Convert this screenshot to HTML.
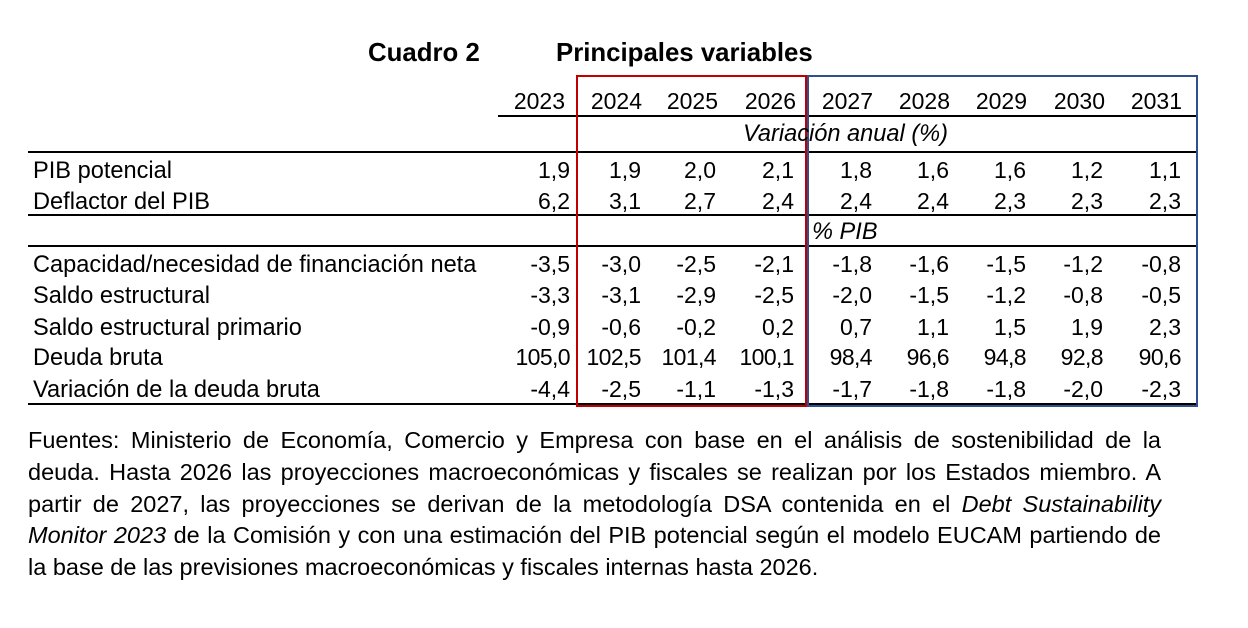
<!DOCTYPE html>
<html><head><meta charset="utf-8">
<style>
body{margin:0;width:1248px;height:628px;background:#fff;position:relative;overflow:hidden;font-family:"Liberation Sans",sans-serif;color:#000}
.a{position:absolute;white-space:nowrap;font-size:23px;line-height:26px}
.r{text-align:right}
.hl{position:absolute;height:2px;background:#000}
.box{position:absolute;border:2px solid}
#foot{position:absolute;left:28px;top:425px;width:1133px;font-size:23.5px;line-height:31.8px}
#foot div{text-align:justify;text-align-last:justify;white-space:nowrap}
#foot div.l{text-align-last:left}
</style></head><body>
<div class="a" style="left:368px;top:38px;font-weight:bold;font-size:25.8px;line-height:30px">Cuadro 2</div>
<div class="a" style="left:556px;top:38px;font-weight:bold;font-size:25.8px;line-height:30px">Principales variables</div>
<div class="hl" style="left:498px;top:115px;width:698px"></div>
<div class="hl" style="left:28px;top:151px;width:1168px"></div>
<div class="hl" style="left:28px;top:214px;width:1168px"></div>
<div class="hl" style="left:28px;top:245px;width:1168px"></div>
<div class="hl" style="left:28px;top:403px;width:1168px"></div>
<div class="box" style="left:576px;top:75px;width:227px;height:328px;border-color:#c00000"></div>
<div class="box" style="left:807px;top:75px;width:387px;height:328px;border-color:#2f4f8f"></div>
<div class="a" style="left:743px;top:121px;font-style:italic;font-size:23.6px">Variación anual (%)</div>
<div class="a" style="left:812px;top:219px;font-style:italic;font-size:23.6px">% PIB</div>
<div id="foot">
<div>Fuentes: Ministerio de Economía, Comercio y Empresa con base en el análisis de sostenibilidad de la</div>
<div>deuda. Hasta 2026 las proyecciones macroeconómicas y fiscales se realizan por los Estados miembro. A</div>
<div>partir de 2027, las proyecciones se derivan de la metodología DSA contenida en el <i>Debt Sustainability</i></div>
<div><i>Monitor 2023</i> de la Comisión y con una estimación del PIB potencial según el modelo EUCAM partiendo de</div>
<div class="l">la base de las previsiones macroeconómicas y fiscales internas hasta 2026.</div>
</div>
<script>
const years=["2023","2024","2025","2026","2027","2028","2029","2030","2031"];
const labels=["PIB potencial","Deflactor del PIB","Capacidad/necesidad de financiación neta","Saldo estructural","Saldo estructural primario","Deuda bruta","Variación de la deuda bruta"];
const pib=["1,9","1,9","2,0","2,1","1,8","1,6","1,6","1,2","1,1"];
const deflactor=["6,2","3,1","2,7","2,4","2,4","2,4","2,3","2,3","2,3"];
const capacidad=["-3,5","-3,0","-2,5","-2,1","-1,8","-1,6","-1,5","-1,2","-0,8"];
const saldo=["-3,3","-3,1","-2,9","-2,5","-2,0","-1,5","-1,2","-0,8","-0,5"];
const primario=["-0,9","-0,6","-0,2","0,2","0,7","1,1","1,5","1,9","2,3"];
const deuda=["105,0","102,5","101,4","100,1","98,4","96,6","94,8","92,8","90,6"];
const varDeuda=["-4,4","-2,5","-1,1","-1,3","-1,7","-1,8","-1,8","-2,0","-2,3"];
const rows=[pib,deflactor,capacidad,saldo,primario,deuda,varDeuda];
const colRight=[570,641,716,794,872,949,1026,1103,1181];
const yearRight=[565,642,718,796,873,950,1027,1105,1182];
const rowY=[157,188,251,282,314,344,376];
function add(txt,x,y,right,name,cond){
  const d=document.createElement('div');
  d.className='a'+(right?' r':'');
  
  
  d.textContent=txt;
  if(right){d.style.left=(x-120)+'px';d.style.width='120px';d.style.top=y+'px';}
  else{d.style.left=x+'px';d.style.fontSize='23.6px';d.style.top=(y+1)+'px';}
  if(cond){d.style.letterSpacing='-0.6px';}
  document.body.appendChild(d);
}
years.forEach((y,i)=>add(y,yearRight[i],88,true,'year-header'));
labels.forEach((l,r)=>add(l,33,rowY[r],false,'row-label'));
rows.forEach((vals,r)=>vals.forEach((v,i)=>add(v,colRight[i],rowY[r],true,'cell-value',r===5)));
</script>
</body></html>
